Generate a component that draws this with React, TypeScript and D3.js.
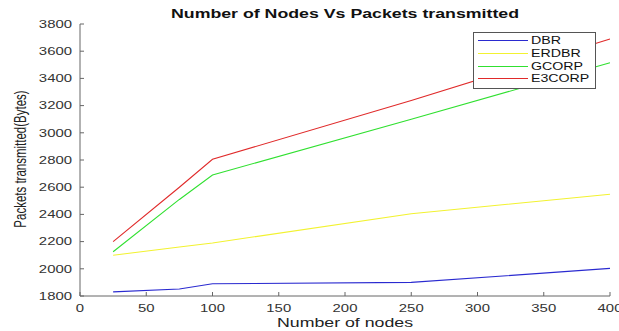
import React from "react";
import * as d3 from "d3";

const nodes = [25, 75, 100, 250, 400];
const seriesNames = ["DBR", "ERDBR", "GCORP", "E3CORP"];
const dbr = [1830, 1852, 1890, 1900, 2003];
const erdbr = [2100, 2160, 2190, 2405, 2548];
const gcorp = [2125, 2510, 2690, 3100, 3515];
const e3corp = [2200, 2600, 2805, 3238, 3690];
const seriesColors = ["#2a2ad0", "#f2f230", "#30e030", "#e02a2a"];
const xTicks = [0, 50, 100, 150, 200, 250, 300, 350, 400];
const yTicks = [1800, 2000, 2200, 2400, 2600, 2800, 3000, 3200, 3400, 3600, 3800];

const W = 619;
const H = 331;
const FONT = "'Liberation Sans', Arial, sans-serif";
// the figure is drawn with horizontally widened lettering
const SX = 1.42;

type TProps = {
  x: number;
  y: number;
  anchor?: "start" | "middle" | "end";
  size: number;
  weight?: string;
  fill?: string;
  children: React.ReactNode;
};

function T({ x, y, anchor = "start", size, weight = "normal", fill = "#222", children }: TProps) {
  return (
    <text
      transform={`translate(${x},${y}) scale(${SX},1)`}
      textAnchor={anchor}
      fontFamily={FONT}
      fontSize={size}
      fontWeight={weight}
      fill={fill}
    >
      {children}
    </text>
  );
}

export default function App() {
  const x = d3.scaleLinear().domain([0, 400]).range([80, 610]);
  const y = d3.scaleLinear().domain([1800, 3800]).range([296, 24]);
  const allSeries = [dbr, erdbr, gcorp, e3corp];
  const line = d3
    .line<number>()
    .x((_, i) => x(nodes[i]))
    .y((d) => y(d));
  const axisColor = "#666";
  const tickColor = "#333";

  const legendX = 473;
  const legendY = 32;
  const rowStep = 12.6;

  return (
    <div style={{ position: "fixed", left: 0, top: 0 }}>
      <svg width={W} height={H} style={{ display: "block", background: "#fff" }}>
        <rect width={W} height={H} fill="#fff" />
        {/* title */}
        <T x={345} y={17.5} anchor="middle" size={12.5} weight="bold" fill="#111">
          Number of Nodes Vs Packets transmitted
        </T>

        {/* axes */}
        <line x1={80} x2={610} y1={296} y2={296} stroke={axisColor} strokeWidth={1} />
        <line x1={80} x2={80} y1={24} y2={296} stroke={axisColor} strokeWidth={1} />
        {xTicks.map((t) => (
          <g key={"x" + t}>
            <line x1={x(t)} x2={x(t)} y1={296} y2={292} stroke={axisColor} />
            <T x={x(t)} y={311.5} anchor="middle" size={10.5} fill={tickColor}>
              {t}
            </T>
          </g>
        ))}
        {yTicks.map((t) => (
          <g key={"y" + t}>
            <line x1={80} x2={84} y1={y(t)} y2={y(t)} stroke={axisColor} />
            <T x={72} y={y(t) + 3.8} anchor="end" size={10.5} fill={tickColor}>
              {t}
            </T>
          </g>
        ))}

        {/* axis labels */}
        <T x={345} y={327} anchor="middle" size={12.5} fill="#222">
          Number of nodes
        </T>
        <text
          transform="translate(25.5,159) rotate(-90) scale(1,1.42)"
          textAnchor="middle"
          fontFamily={FONT}
          fontSize={11.5}
          fill="#222"
        >
          Packets transmitted(Bytes)
        </text>

        {/* series */}
        {allSeries.map((s, i) => (
          <path
            key={seriesNames[i]}
            d={line(s) || ""}
            fill="none"
            stroke={seriesColors[i]}
            strokeWidth={1.1}
          />
        ))}

        {/* legend */}
        <rect
          x={legendX + 0.5}
          y={legendY + 0.5}
          width={122}
          height={56}
          fill="#fff"
          stroke="#555"
          strokeWidth={1}
        />
        {seriesNames.map((n, i) => {
          const ry = Math.round(legendY + 8.3 + i * rowStep) + 0.5;
          return (
            <g key={"lg" + n}>
              <line
                x1={legendX + 5}
                x2={legendX + 55}
                y1={ry}
                y2={ry}
                stroke={seriesColors[i]}
                strokeWidth={1}
              />
              <T x={legendX + 58} y={ry + 3.6} size={10} fill="#111">
                {n}
              </T>
            </g>
          );
        })}
      </svg>
    </div>
  );
}
